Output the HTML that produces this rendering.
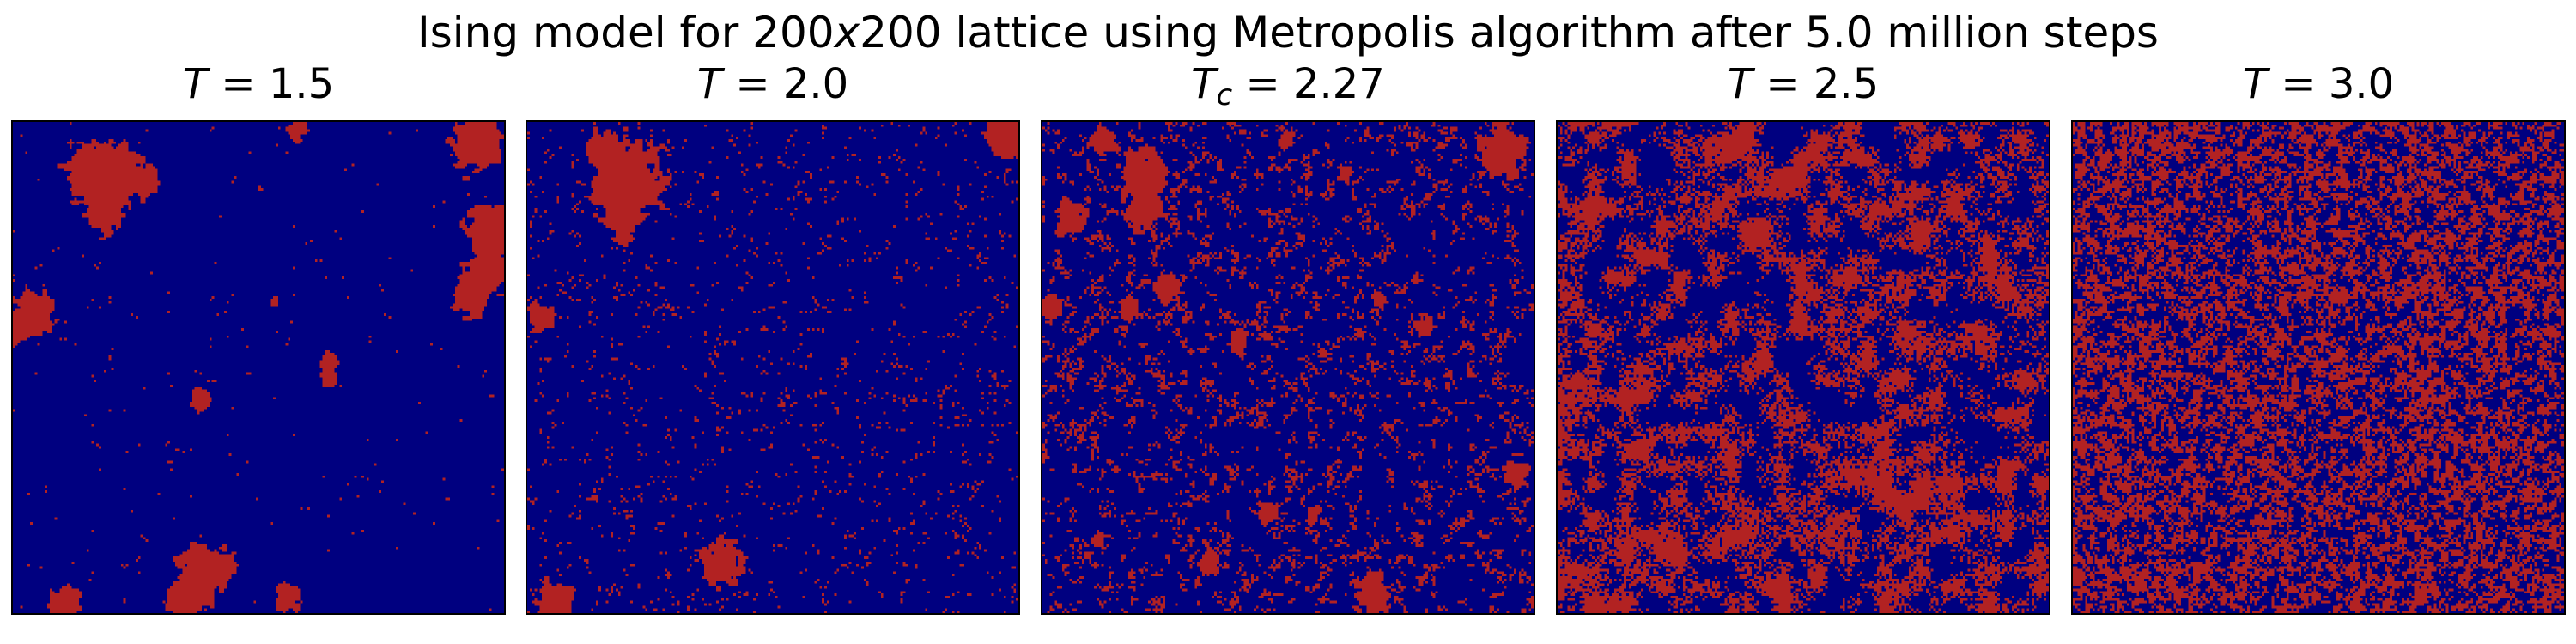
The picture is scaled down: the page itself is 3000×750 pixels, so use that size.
<!DOCTYPE html>
<html><head><meta charset="utf-8"><style>
html,body{margin:0;padding:0;background:#fff;}
#root{position:relative;width:3000px;height:750px;overflow:hidden;background:#fff;font-family:"DejaVu Sans","Liberation Sans",sans-serif;}
canvas.lat{position:absolute;image-rendering:pixelated;box-sizing:border-box;border:2.5px solid #000;}
svg{position:absolute;left:0;top:0;}
</style></head><body>
<div id="root">
<svg width="3000" height="750">
<text x="1500" y="55" text-anchor="middle" font-size="50" textLength="2028" lengthAdjust="spacingAndGlyphs" font-family="DejaVu Sans, Liberation Sans, sans-serif">Ising model for 200<tspan font-style="italic">x</tspan>200 lattice using Metropolis algorithm after 5.0 million steps</text>
<text x="301" y="114" text-anchor="middle" font-size="48" font-family="DejaVu Sans, sans-serif"><tspan font-style="italic">T</tspan> = 1.5</text>
<text x="900" y="114" text-anchor="middle" font-size="48" font-family="DejaVu Sans, sans-serif"><tspan font-style="italic">T</tspan> = 2.0</text>
<text x="1500" y="114" text-anchor="middle" font-size="48" font-family="DejaVu Sans, sans-serif"><tspan font-style="italic">T</tspan><tspan font-style="italic" font-size="34" dy="8">c</tspan><tspan dy="-8"> = 2.27</tspan></text>
<text x="2100" y="114" text-anchor="middle" font-size="48" font-family="DejaVu Sans, sans-serif"><tspan font-style="italic">T</tspan> = 2.5</text>
<text x="2700" y="114" text-anchor="middle" font-size="48" font-family="DejaVu Sans, sans-serif"><tspan font-style="italic">T</tspan> = 3.0</text>
</svg>
</div>
<script>
// ---- data ----
const temperatures = [1.5, 2.0, 2.27, 2.5, 3.0];
const latticeSize = 200;
const redDensity = [0.006, 0.045, 0.14, 0.44, 0.49];
// clusters per panel: lattice x, y, radius
const clusterX1 = [30,42,52,36,38,188,194,193,186,115,8,2,128,128,76,106,76,69,84,111,21];
const clusterY1 = [20,20,24,36,25,8,44,60,71,3,78,84,97,104,112,73,184,195,180,194,196];
const clusterR1 = [10,11,6,8,10,10,10,9,7,4,8,5,4,4,4,2,10,7,6,5,6];
const clusterX2 = [40,38,79,11,5,195,30];
const clusterY2 = [23,38,179,196,79,6,10];
const clusterR2 = [15,8,8,8,5,8,6];
const clusterX3 = [41,41,11,24,187,51,35,3,80,155,137,193,91,110,134,67,22,123,99];
const clusterY3 = [23,36,39,7,12,67,75,75,89,83,72,143,159,159,192,179,170,20,7];
const clusterR3 = [10,7,6,5,9,5,4,4,4,4,3,5,4,3,7,4,3,3,3];
const clusterX4 = [];
const clusterY4 = [];
const clusterR4 = [];
const clusterX5 = [];
const clusterY5 = [];
const clusterR5 = [];
const clustersX = [clusterX1,clusterX2,clusterX3,clusterX4,clusterX5];
const clustersY = [clusterY1,clusterY2,clusterY3,clusterY4,clusterY5];
const clustersR = [clusterR1,clusterR2,clusterR3,clusterR4,clusterR5];

// ---- layout / texture style ----
const panelLeft = [13,612,1212,1812,2412];
const panelTop = 140, panelSize = 576;
const texScale = [3, 3, 3, 7, 2.5];
const texMix = [0.2, 0.3, 0.6, 0.6, 0.55];

function hash(i,j,s){
  let h = (i*374761393 + j*668265263 + s*2147483647) | 0;
  h = Math.imul(h ^ (h>>>13), 1274126177);
  h = h ^ (h>>>16);
  return ((h>>>0) % 100000) / 100000;
}
function vnoise(x,y,sc,s){
  const gx=x/sc, gy=y/sc, ix=Math.floor(gx), iy=Math.floor(gy);
  const fx=gx-ix, fy=gy-iy;
  const ux=fx*fx*(3-2*fx), uy=fy*fy*(3-2*fy);
  const a=hash(ix,iy,s),b=hash(ix+1,iy,s),c=hash(ix,iy+1,s),d=hash(ix+1,iy+1,s);
  return a+(b-a)*ux+(c-a)*uy+(a-b-c+d)*ux*uy;
}
const root = document.getElementById('root');
temperatures.forEach((T,p)=>{
  const N = latticeSize;
  const cv = document.createElement('canvas');
  cv.width = N; cv.height = N;
  cv.className = 'lat';
  
  
  cv.style.left = panelLeft[p] + 'px';
  cv.style.top = panelTop + 'px';
  cv.style.width = panelSize + 'px';
  cv.style.height = panelSize + 'px';
  const f = new Float32Array(N*N);
  const m = texMix[p], sc = texScale[p];
  for(let j=0;j<N;j++)for(let i=0;i<N;i++){
    f[j*N+i] = m*vnoise(i,j,sc,p+7) + (1-m)*hash(i,j,p+31);
  }
  const sorted = Array.from(f).sort((a,b)=>a-b);
  const thr = sorted[Math.min(N*N-1, Math.floor((1-redDensity[p])*N*N))];
  const ctx = cv.getContext('2d');
  const img = ctx.createImageData(N,N);
  const cx = clustersX[p], cy = clustersY[p], cr = clustersR[p];
  for(let j=0;j<N;j++)for(let i=0;i<N;i++){
    let red = f[j*N+i] > thr;
    for(let k=0;k<cx.length && !red;k++){
      const dx=i-cx[k], dy=(j-cy[k])*0.85;
      const rr = cr[k]*(0.6+0.8*vnoise(i,j,2.5,p+50+k));
      if(dx*dx+dy*dy < rr*rr) red = true;
    }
    const o=(j*N+i)*4;
    if(red){img.data[o]=178;img.data[o+1]=34;img.data[o+2]=34;}
    else{img.data[o]=0;img.data[o+1]=0;img.data[o+2]=128;}
    img.data[o+3]=255;
  }
  ctx.putImageData(img,0,0);
  root.appendChild(cv);
});
</script>
</body></html>
